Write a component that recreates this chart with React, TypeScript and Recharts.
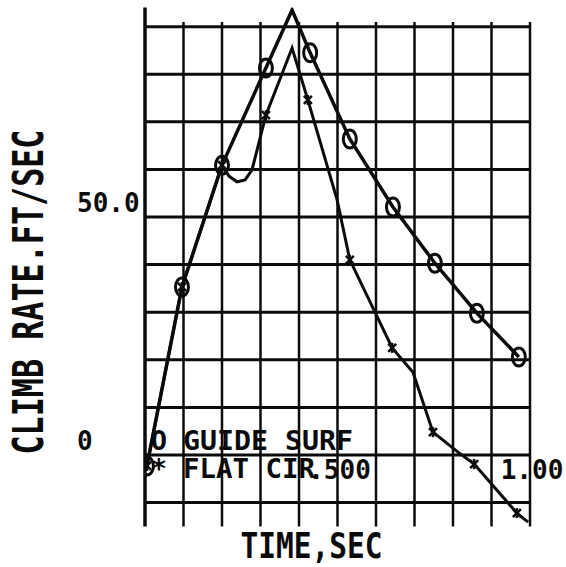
import { ComposedChart, Line, XAxis, YAxis, ReferenceLine, ReferenceDot, Customized } from "recharts";

// GUIDE SURF (open "O" markers)
const guideTime = [0.005, 0.096, 0.2, 0.314, 0.382, 0.429, 0.532, 0.644, 0.753, 0.862, 0.971];
const guideRate = [-2.3, 35.3, 60.9, 81.3, 93.5, 84.5, 66.4, 52.1, 40.3, 29.8, 20.6];
const guideMarked = [true, true, true, true, false, true, true, true, true, true, true];

// FLAT CIR ("*" markers)
const flatTime = [0.005, 0.096, 0.2, 0.218, 0.239, 0.26, 0.278, 0.314, 0.382, 0.423, 0.499, 0.532, 0.642, 0.696, 0.748, 0.813, 0.855, 0.966, 0.995];
const flatRate = [-2.3, 35.3, 60.9, 58.6, 57.4, 57.8, 59.9, 71.4, 85.5, 74.6, 53.6, 41.0, 22.5, 17.4, 4.8, 0.6, -1.9, -12.2, -14.1];
const flatMarked = [true, true, true, false, false, false, false, true, false, true, false, true, true, false, true, false, true, true, false];

const xGrid = [0.1, 0.2, 0.3, 0.4, 0.5, 0.6, 0.7, 0.8, 0.9, 1.0];
const yGrid = [-10, 0, 10, 20, 30, 40, 50, 60, 70, 80, 90];
const yTicks = [0, 50];
const yTickText = ["0", "50.0"];
const xTicks = [0.5, 1.0];
const xTickText = [".500", "1.00"];

const guideData = guideTime.map((t, i) => ({ t, v: guideRate[i] }));
const flatData = flatTime.map((t, i) => ({ t, v: flatRate[i] }));

const INK = "#0b0b0b";
const FONT = "'DejaVu Sans Mono', 'Liberation Mono', monospace";

const CircleDot = (p: any) => {
  if (!guideMarked[p.index]) return <g key={`g${p.index}`} />;
  return <ellipse key={`g${p.index}`} cx={p.cx} cy={p.cy} rx={6.5} ry={9} fill="none" stroke={INK} strokeWidth={3} />;
};

const StarDot = (p: any) => {
  if (!flatMarked[p.index]) return <g key={`f${p.index}`} />;
  const { cx, cy } = p;
  return (
    <g key={`f${p.index}`} stroke={INK} strokeWidth={2.5}>
      <line x1={cx - 4} y1={cy - 4} x2={cx + 4} y2={cy + 4} />
      <line x1={cx - 4} y1={cy + 4} x2={cx + 4} y2={cy - 4} />
      <line x1={cx} y1={cy - 5} x2={cx} y2={cy + 5} />
    </g>
  );
};

const YTick = (p: any) => (
  <text x={p.x - 60} y={p.y - 5} fontFamily={FONT} fontWeight="bold" fontSize={26} fill={INK} textAnchor="start">
    {yTickText[yTicks.indexOf(p.payload.value)]}
  </text>
);

const XTickLabel = (text: string) => (p: any) => {
  const vb = p.viewBox;
  return (
    <text x={vb.x + vb.width / 2 + 2} y={vb.y + 24} fontFamily={FONT} fontWeight="bold" fontSize={26} fill={INK} textAnchor="middle">
      {text}
    </text>
  );
};

const PlotLegend = () => (
  <g fontFamily={FONT} fontWeight="bold" fontSize={27} fill={INK}>
    <text x={159} y={450} textAnchor="middle">O</text>
    <text x={183} y={450} textLength={170} lengthAdjust="spacingAndGlyphs">GUIDE SURF</text>
    <text x={159} y={478} textAnchor="middle">*</text>
    <text x={183} y={478} textLength={132} lengthAdjust="spacingAndGlyphs">FLAT CIR</text>
  </g>
);

export default function App() {
  return (
    <div style={{ position: "absolute", left: 0, top: 0, width: 566, height: 567, background: "#fff" }}>
      <ComposedChart width={566} height={567} margin={{ top: 7.6, right: 36, left: 0, bottom: 0 }}>
        <XAxis
          type="number"
          dataKey="t"
          domain={[0, 1]}
          allowDataOverflow
          height={40.6}
          tick={false}
          tickLine={false}
          axisLine={false}
          label={(p: any) => (
            <text
              x={p.viewBox.x + p.viewBox.width / 2 - 26}
              y={p.viewBox.y + 31.6}
              fontFamily={FONT}
              fontWeight="bold"
              fontSize={36}
              fill={INK}
              textAnchor="middle"
              textLength={142}
              lengthAdjust="spacingAndGlyphs"
            >
              TIME,SEC
            </text>
          )}
        />
        <YAxis
          type="number"
          domain={[-15, 94]}
          allowDataOverflow
          width={145}
          ticks={yTicks}
          tick={<YTick />}
          tickLine={false}
          axisLine={false}
          label={(p: any) => {
            const cx = 43;
            const cy = p.viewBox.y + p.viewBox.height / 2 + 25;
            return (
              <text
                x={cx}
                y={cy}
                transform={`rotate(-90, ${cx}, ${cy})`}
                fontFamily={FONT}
                fontWeight="bold"
                fontSize={42}
                fill={INK}
                textAnchor="middle"
                textLength={325}
                lengthAdjust="spacingAndGlyphs"
              >
                CLIMB RATE.FT/SEC
              </text>
            );
          }}
        />
        {yGrid.map((v) => (
          <ReferenceLine key={`h${v}`} y={v} stroke={INK} strokeWidth={3} />
        ))}
        {xGrid.map((t) => (
          <ReferenceLine
            key={`v${t}`}
            segment={[
              { x: t, y: -15 },
              { x: t, y: 91 },
            ]}
            stroke={INK}
            strokeWidth={2.5}
          />
        ))}
        <ReferenceLine x={0} stroke={INK} strokeWidth={3.5} />
        <Line data={guideData} dataKey="v" type="linear" stroke={INK} strokeWidth={3.5} dot={CircleDot} isAnimationActive={false} />
        <Line data={flatData} dataKey="v" type="linear" stroke={INK} strokeWidth={3} dot={StarDot} isAnimationActive={false} />
        {xTicks.map((t, i) => (
          <ReferenceDot key={`xt${t}`} x={t} y={0} r={0} fill="none" stroke="none" label={XTickLabel(xTickText[i])} />
        ))}
        <Customized component={PlotLegend} />
      </ComposedChart>
    </div>
  );
}
